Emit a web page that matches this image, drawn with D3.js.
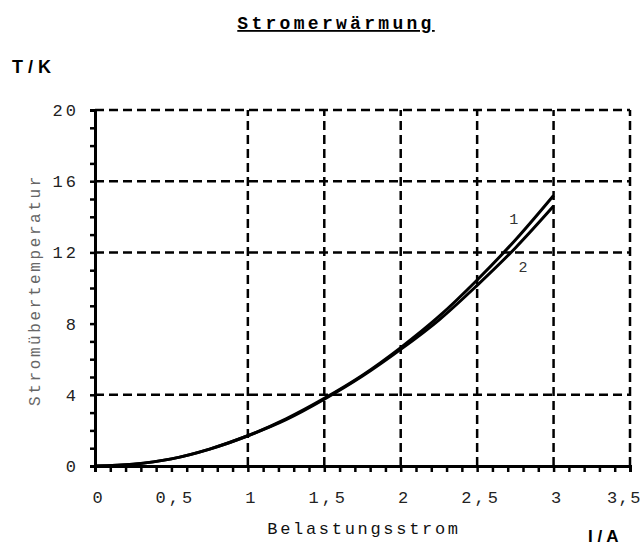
<!DOCTYPE html>
<html>
<head>
<meta charset="utf-8">
<script src="https://cdn.jsdelivr.net/npm/d3@7"></script>
<style>
  body { margin: 0; background: #fff; }
  svg { display: block; }
  .mono { font-family: "Liberation Mono", "DejaVu Sans Mono", monospace; }
  .sans { font-family: "Liberation Sans", Arial, sans-serif; font-weight: bold; }
</style>
</head>
<body>
<svg id="chart" width="643" height="547"></svg>
<script>
// Current I (A) and temperature rise (K) for the two test pieces
const current = [0, 0.25, 0.5, 0.75, 1, 1.25, 1.5, 1.75, 2, 2.25, 2.5, 2.75, 3];
const temp1 = [0, 0.1, 0.4, 0.95, 1.7, 2.65, 3.8, 5.1, 6.65, 8.4, 10.45, 12.7, 15.2];
const temp2 = [0, 0.1, 0.4, 0.95, 1.7, 2.6, 3.75, 5.05, 6.55, 8.2, 10.15, 12.25, 14.6];
const curveLabels = ["1", "2"];

const xTicks = [0, 0.5, 1, 1.5, 2, 2.5, 3, 3.5];
const xTickLabels = ["0", "0,5", "1", "1,5", "2", "2,5", "3", "3,5"];
const yTicks = [0, 4, 8, 12, 16, 20];
const yTickLabels = ["0", "4", "8", "12", "16", "20"];
const xGrid = [1, 1.5, 2, 2.5, 3, 3.5];
const yGrid = [4, 12, 16, 20];

const svg = d3.select("#chart");
const x = d3.scaleLinear().domain([0, 3.5]).range([95, 630]);
const y = d3.scaleLinear().domain([0, 20]).range([466, 110]);

// dashed grid
svg.append("g").selectAll("line").data(xGrid).join("line")
  .attr("x1", d => x(d)).attr("x2", d => x(d))
  .attr("y1", y(0)).attr("y2", y(20))
  .attr("stroke", "#000").attr("stroke-width", 2.5).attr("stroke-dasharray", "9,5");
svg.append("g").selectAll("line").data(yGrid).join("line")
  .attr("x1", x(0)).attr("x2", x(3.5))
  .attr("y1", d => y(d)).attr("y2", d => y(d))
  .attr("stroke", "#000").attr("stroke-width", 2.5).attr("stroke-dasharray", "9,5");

// axes with minor ticks
const xAxis = d3.axisBottom(x).tickValues(d3.range(0, 3.51, 0.1)).tickSize(6).tickFormat("");
const gx = svg.append("g").attr("transform", `translate(0,${y(0)})`).call(xAxis);
const yAxis = d3.axisLeft(y).tickValues(d3.range(0, 20.1, 1)).tickSize(5).tickFormat("");
const gy = svg.append("g").attr("transform", `translate(${x(0)},0)`).call(yAxis);
[gx, gy].forEach(g => {
  g.select(".domain").attr("stroke", "#000").attr("stroke-width", 3);
  g.selectAll(".tick line").attr("stroke", "#000").attr("stroke-width", 2.5);
});

// tick labels (the last one is pulled in so it stays on the page)
svg.append("g").selectAll("text").data(xTicks).join("text")
  .attr("class", "mono")
  .attr("x", d => d === 3.5 ? 642 : x(d) + 4).attr("y", 503)
  .attr("text-anchor", d => d === 3.5 ? "end" : "middle")
  .attr("font-size", 17).attr("letter-spacing", d => d === 3.5 ? 1.5 : 3)
  .attr("fill", "#222")
  .text((d, i) => xTickLabels[i]);
svg.append("g").selectAll("text").data(yTicks).join("text")
  .attr("class", "mono")
  .attr("x", 79).attr("y", d => y(d) + 6)
  .attr("text-anchor", "end")
  .attr("font-size", 17).attr("letter-spacing", 3)
  .attr("fill", "#222")
  .text((d, i) => yTickLabels[i]);

// curves
const line = d3.line().x(d => x(d[0])).y(d => y(d[1])).curve(d3.curveCatmullRom);
[temp1, temp2].forEach(t => {
  svg.append("path")
    .datum(current.map((c, i) => [c, t[i]]))
    .attr("d", line)
    .attr("fill", "none").attr("stroke", "#000").attr("stroke-width", 3);
});

// curve labels
svg.append("text").attr("class", "mono").attr("x", x(2.71)).attr("y", y(13.6))
  .attr("font-size", 15).attr("fill", "#333").text(curveLabels[0]);
svg.append("text").attr("class", "mono").attr("x", x(2.77)).attr("y", y(10.9))
  .attr("font-size", 15).attr("fill", "#333").text(curveLabels[1]);

// title
svg.append("text").attr("class", "mono")
  .attr("x", 336).attr("y", 29).attr("text-anchor", "middle")
  .attr("font-size", 18).attr("font-weight", "bold").attr("letter-spacing", 3.3)
  .attr("text-decoration", "underline")
  .text("Stromerwärmung");

// axis titles
svg.append("text").attr("class", "sans").attr("x", 12).attr("y", 73)
  .attr("font-size", 18).text("T / K");
svg.append("text").attr("class", "sans").attr("x", 588).attr("y", 542)
  .attr("font-size", 17).text("I / A");
svg.append("text").attr("class", "mono")
  .attr("x", 364).attr("y", 534).attr("text-anchor", "middle")
  .attr("font-size", 17).attr("letter-spacing", 2.7).attr("fill", "#111")
  .text("Belastungsstrom");
svg.append("text").attr("class", "mono")
  .attr("transform", "translate(40,290) rotate(-90)")
  .attr("text-anchor", "middle")
  .attr("font-size", 16).attr("letter-spacing", 2.6).attr("fill", "#666")
  .text("Stromübertemperatur");
</script>
</body>
</html>
